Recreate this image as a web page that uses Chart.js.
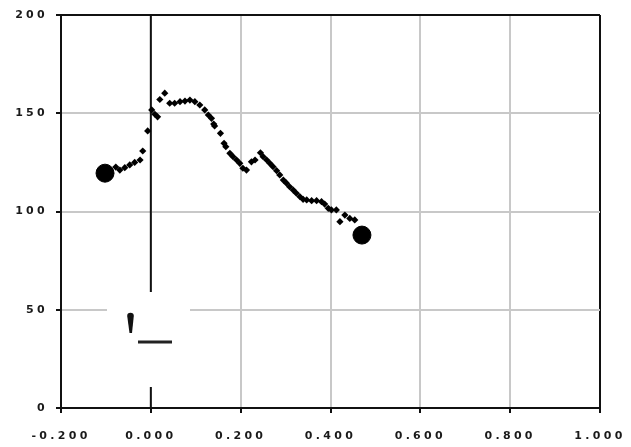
<!DOCTYPE html>
<html>
<head>
<meta charset="utf-8">
<script src="https://cdn.jsdelivr.net/npm/chart.js@4.4.1/dist/chart.umd.min.js"></script>
<style>
html,body{margin:0;padding:0;background:#fff;}
#wrap{width:631px;height:447px;position:relative;}
</style>
</head>
<body>
<div id="wrap"><canvas id="c" width="631" height="447"></canvas></div>
<script>
// ---- data ----
const seriesX = [-0.078,-0.069,-0.058,-0.047,-0.036,-0.024,-0.018,-0.007,0.002,0.009,0.015,0.020,0.031,
  0.042,0.053,0.065,0.076,0.087,0.098,0.109,0.120,0.128,0.135,0.140,0.142,0.155,0.163,0.167,0.176,0.183,
  0.191,0.198,0.205,0.213,0.224,0.232,0.244,0.250,0.258,0.265,0.272,0.280,0.287,0.295,0.302,0.309,0.317,
  0.324,0.332,0.339,0.347,0.358,0.369,0.380,0.387,0.395,0.402,0.413,0.421,0.432,0.443,0.454];
const seriesY = [122.6,121.1,122.3,123.7,125.0,126.2,130.8,141.0,151.7,149.5,148.2,157.0,160.2,
  155.1,155.1,155.9,156.2,156.7,155.9,154.2,151.7,149.1,147.4,144.5,143.5,139.8,134.7,133.0,129.6,127.9,
  126.2,124.5,122.0,121.1,125.3,126.2,129.9,127.9,126.2,124.5,122.8,120.8,118.6,116.0,114.4,112.6,110.9,
  109.3,107.5,106.2,105.9,105.5,105.5,105.0,103.8,101.6,100.8,100.8,94.8,98.2,96.5,95.7];
const startPoint = {x: -0.102, y: 119.5};
const endPoint = {x: 0.470, y: 88.0};
const zeroLineX = [0, 0];
const zeroLineY = [0, 200];
const xMin = -0.2, xMax = 1.0, xStep = 0.2;
const yMin = 0, yMax = 200, yStep = 50;

const pts = seriesX.map((x, i) => ({x: x, y: seriesY[i]}));
const zeroLine = zeroLineX.map((x, i) => ({x: x, y: zeroLineY[i]}));

const near = (a, b) => Math.abs(a - b) < 1e-6;

const SPACING = '3.3px';
const spacing = {
  id: 'spacing',
  beforeLayout(chart) { chart.ctx.letterSpacing = SPACING; },
  beforeDraw(chart) { chart.ctx.letterSpacing = SPACING; }
};

const legendBox = {
  id: 'legendBox',
  afterDatasetsDraw(chart) {
    const ctx = chart.ctx;
    const a = chart.chartArea;
    const x0 = a.left + 46, y0 = a.top + 277;
    ctx.save();
    ctx.fillStyle = '#ffffff';
    ctx.fillRect(x0, y0, 83, 95);
    ctx.fillStyle = '#111';
    ctx.beginPath();
    ctx.arc(x0 + 23.5, y0 + 24, 3.3, Math.PI, 0);
    ctx.lineTo(x0 + 25, y0 + 41);
    ctx.lineTo(x0 + 22.5, y0 + 41);
    ctx.closePath();
    ctx.fill();
    ctx.strokeStyle = '#222';
    ctx.lineWidth = 3;
    ctx.beginPath();
    ctx.moveTo(x0 + 31, y0 + 50);
    ctx.lineTo(x0 + 65, y0 + 50);
    ctx.stroke();
    ctx.restore();
  }
};

const tickFont = {family: 'DejaVu Sans', size: 11, weight: 'bold'};

new Chart(document.getElementById('c'), {
  type: 'scatter',
  data: {
    datasets: [
      {
        data: zeroLine, showLine: true, borderColor: '#111', borderWidth: 2,
        pointRadius: 0, pointHoverRadius: 0, order: 3
      },
      {
        data: pts, showLine: false, pointStyle: 'rectRot', pointRadius: 3.6,
        backgroundColor: '#000', borderColor: '#000', borderWidth: 0, order: 2
      },
      {
        data: [startPoint, endPoint], showLine: false, pointStyle: 'circle', pointRadius: 9,
        backgroundColor: '#000', borderColor: '#000', borderWidth: 1, order: 1
      }
    ]
  },
  options: {
    responsive: false,
    animation: false,
    devicePixelRatio: 1,
    layout: {padding: {left: 0, right: 31, top: 15, bottom: 0}},
    plugins: {legend: {display: false}, tooltip: {enabled: false}},
    scales: {
      x: {
        type: 'linear', min: xMin, max: xMax,
        afterFit(s) { s.height = 39; s.paddingRight = 30; },
        border: {display: true, color: '#111', width: 2},
        grid: {
          color: c => (c.tick && (near(c.tick.value, xMin) || near(c.tick.value, xMax))) ? '#111' : '#c8c8c8',
          lineWidth: 2, drawTicks: true, tickLength: 5, tickColor: '#111', tickWidth: 2
        },
        ticks: {
          stepSize: xStep, padding: 17, color: '#1a1a1a', font: tickFont,
          callback: v => (Math.abs(v) < 1e-9 ? 0 : Number(v)).toFixed(3), maxRotation: 0, autoSkip: false
        }
      },
      y: {
        type: 'linear', min: yMin, max: yMax,
        afterFit(s) { s.width = 61; },
        border: {display: true, color: '#111', width: 2},
        grid: {
          color: c => (c.tick && (near(c.tick.value, yMin) || near(c.tick.value, yMax))) ? '#111' : '#c8c8c8',
          lineWidth: 2, drawTicks: true, tickLength: 5, tickColor: '#111', tickWidth: 2
        },
        ticks: {
          stepSize: yStep, padding: 8, color: '#1a1a1a', font: tickFont,
          callback: v => String(v)
        }
      }
    }
  },
  plugins: [spacing, legendBox]
});
</script>
</body>
</html>
